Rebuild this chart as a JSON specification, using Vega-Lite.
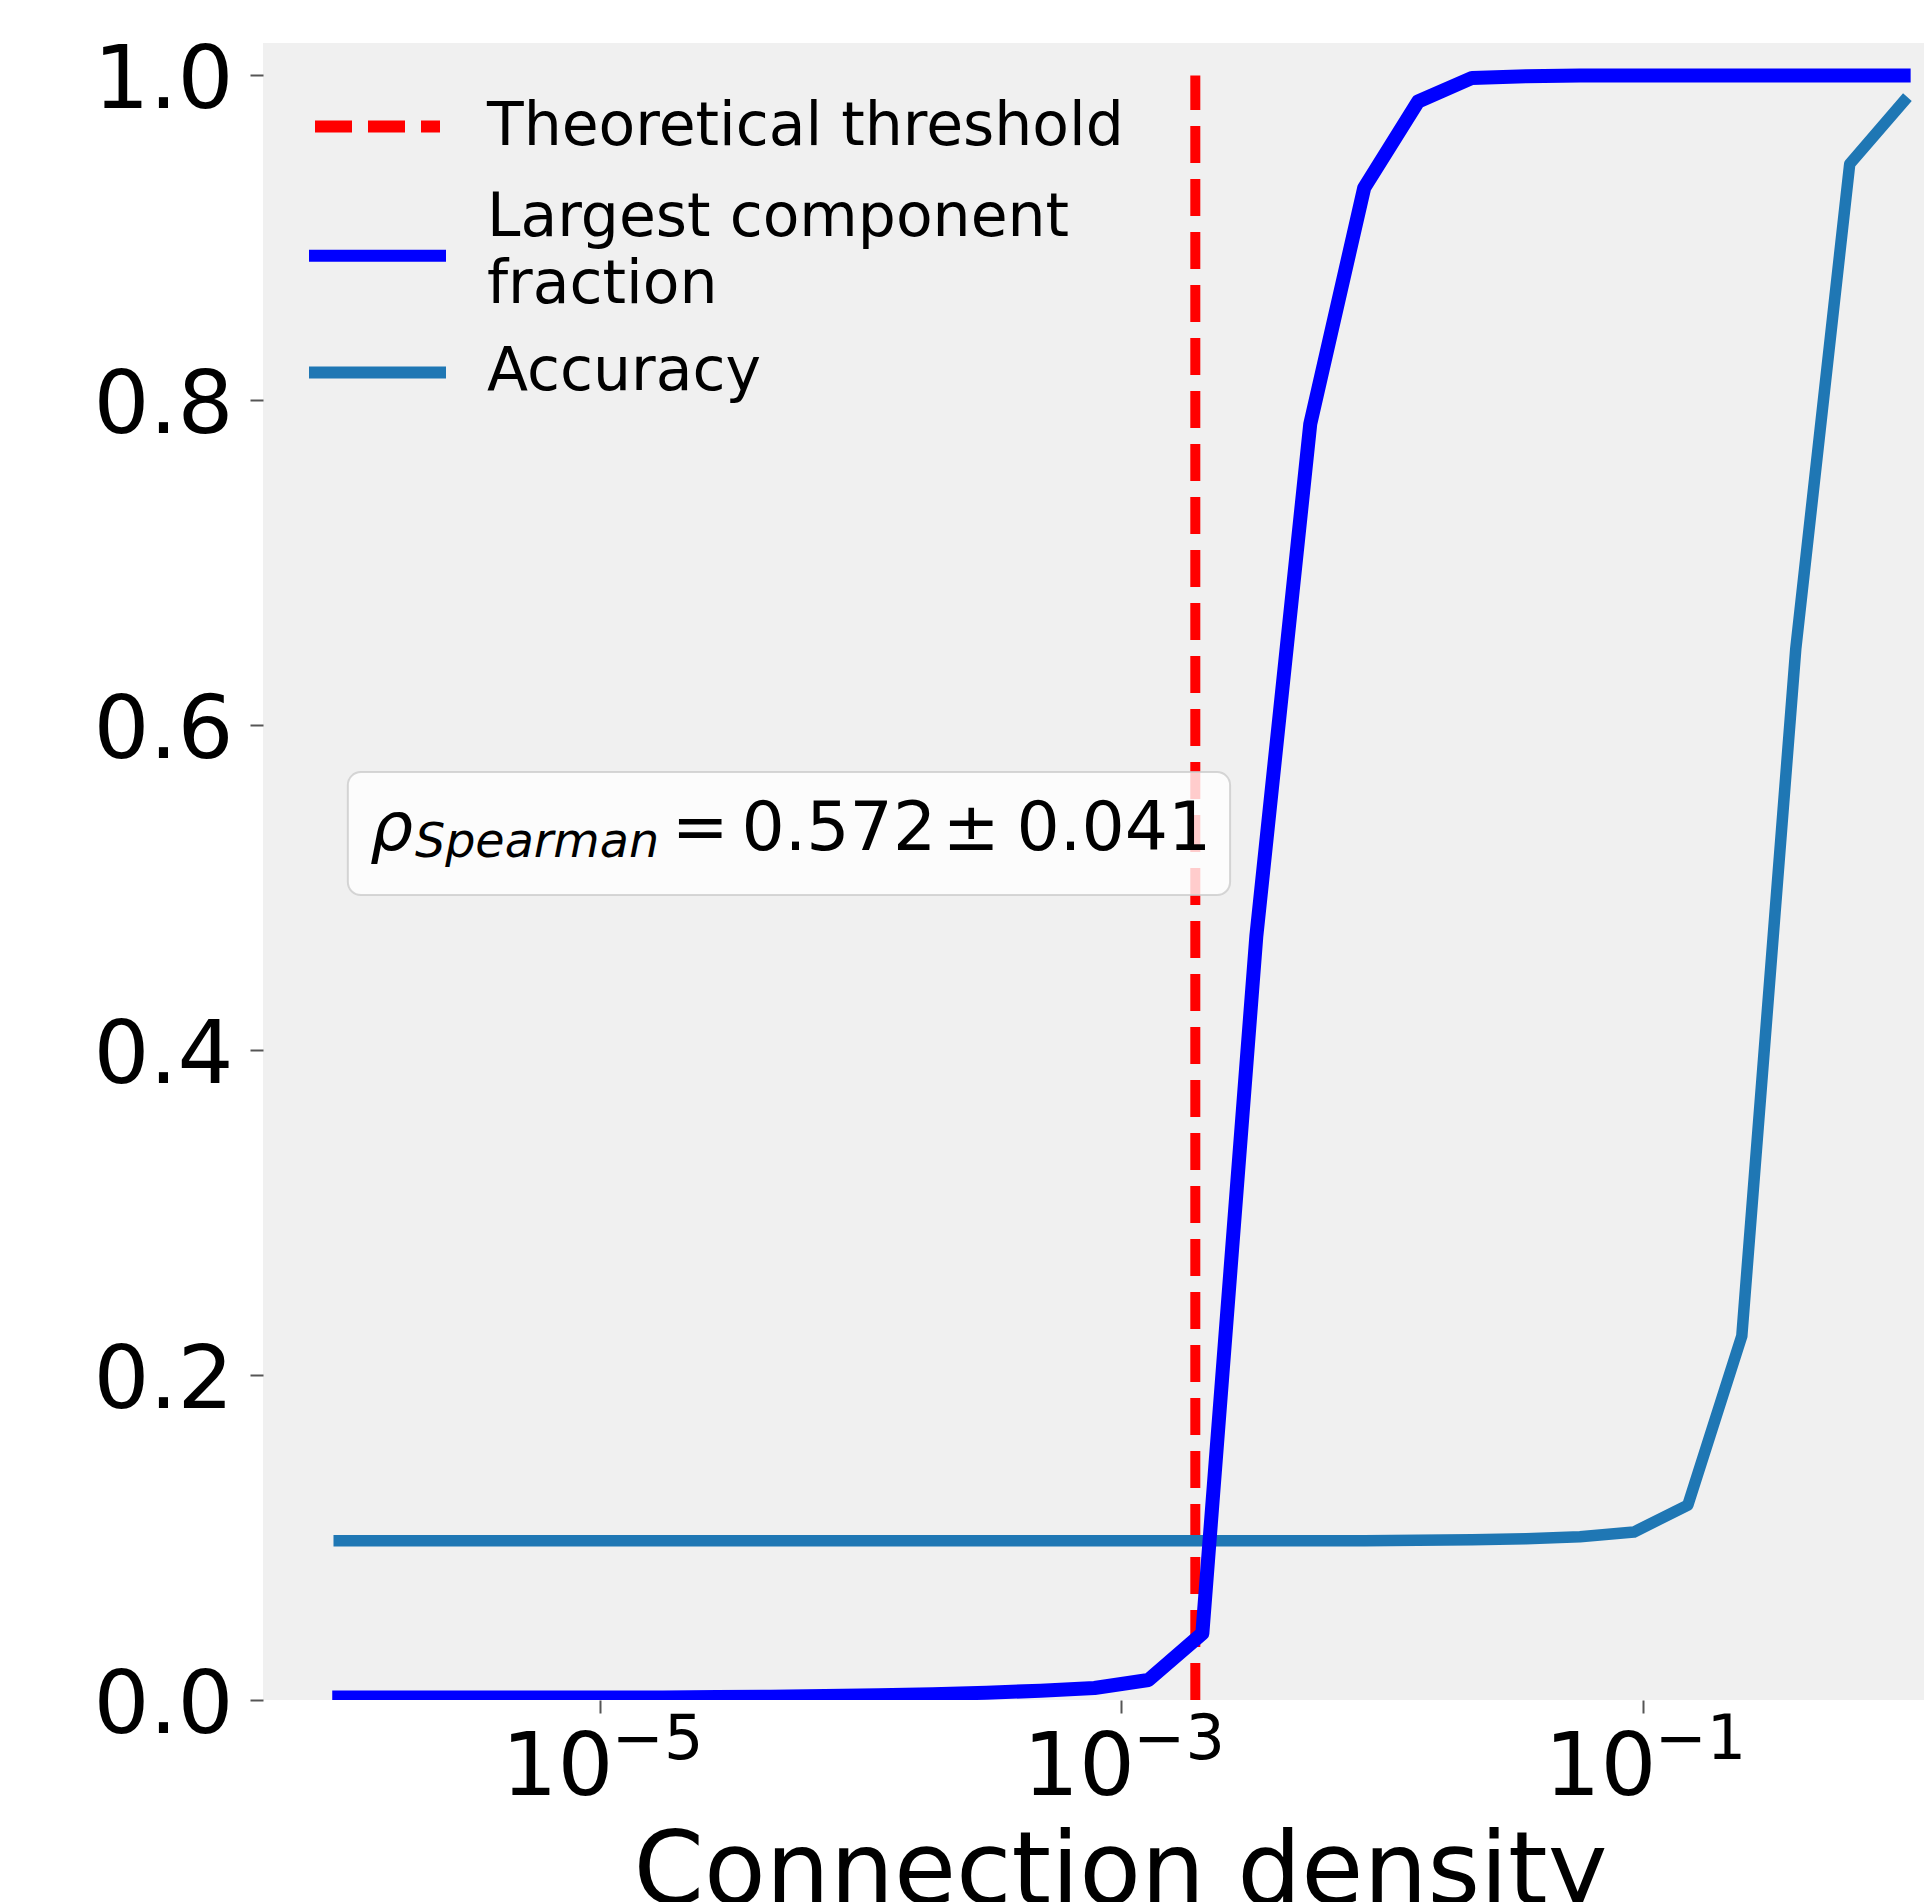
{
  "$schema": "https://vega.github.io/schema/vega-lite/v6.json",
  "autosize": "none",
  "width": 1661,
  "height": 1657,
  "padding": {"left": 263, "top": 43, "right": 0, "bottom": 202},
  "background": "white",
  "config": {
    "view": {"fill": "#f0f0f0", "stroke": null},
    "font": "DejaVu Sans"
  },
  "datasets": {
    "curves": [
      {"density": 1e-6, "series": "Largest component fraction", "value": 0.0015},
      {"density": 1.6103e-6, "series": "Largest component fraction", "value": 0.0015},
      {"density": 2.5929e-6, "series": "Largest component fraction", "value": 0.0015},
      {"density": 4.1753e-6, "series": "Largest component fraction", "value": 0.0015},
      {"density": 6.7234e-6, "series": "Largest component fraction", "value": 0.0015},
      {"density": 1.0826e-5, "series": "Largest component fraction", "value": 0.0015},
      {"density": 1.7433e-5, "series": "Largest component fraction", "value": 0.0016},
      {"density": 2.8072e-5, "series": "Largest component fraction", "value": 0.0018},
      {"density": 4.5204e-5, "series": "Largest component fraction", "value": 0.002},
      {"density": 7.279e-5, "series": "Largest component fraction", "value": 0.0025},
      {"density": 1.1721e-4, "series": "Largest component fraction", "value": 0.003},
      {"density": 1.8874e-4, "series": "Largest component fraction", "value": 0.0035},
      {"density": 3.0392e-4, "series": "Largest component fraction", "value": 0.0045},
      {"density": 4.8939e-4, "series": "Largest component fraction", "value": 0.0057},
      {"density": 7.8805e-4, "series": "Largest component fraction", "value": 0.0074},
      {"density": 1.269e-3, "series": "Largest component fraction", "value": 0.0123},
      {"density": 2.0434e-3, "series": "Largest component fraction", "value": 0.041},
      {"density": 3.2903e-3, "series": "Largest component fraction", "value": 0.47},
      {"density": 5.2983e-3, "series": "Largest component fraction", "value": 0.7855},
      {"density": 8.5317e-3, "series": "Largest component fraction", "value": 0.9308},
      {"density": 1.3738e-2, "series": "Largest component fraction", "value": 0.984},
      {"density": 2.2122e-2, "series": "Largest component fraction", "value": 0.9985},
      {"density": 3.5622e-2, "series": "Largest component fraction", "value": 0.9995},
      {"density": 5.7362e-2, "series": "Largest component fraction", "value": 1.0},
      {"density": 9.2367e-2, "series": "Largest component fraction", "value": 1.0},
      {"density": 0.14874, "series": "Largest component fraction", "value": 1.0},
      {"density": 0.2395, "series": "Largest component fraction", "value": 1.0},
      {"density": 0.38566, "series": "Largest component fraction", "value": 1.0},
      {"density": 0.62102, "series": "Largest component fraction", "value": 1.0},
      {"density": 1.0, "series": "Largest component fraction", "value": 1.0},
      {"density": 1e-6, "series": "Accuracy", "value": 0.098},
      {"density": 1.6103e-6, "series": "Accuracy", "value": 0.098},
      {"density": 2.5929e-6, "series": "Accuracy", "value": 0.098},
      {"density": 4.1753e-6, "series": "Accuracy", "value": 0.098},
      {"density": 6.7234e-6, "series": "Accuracy", "value": 0.098},
      {"density": 1.0826e-5, "series": "Accuracy", "value": 0.098},
      {"density": 1.7433e-5, "series": "Accuracy", "value": 0.098},
      {"density": 2.8072e-5, "series": "Accuracy", "value": 0.098},
      {"density": 4.5204e-5, "series": "Accuracy", "value": 0.098},
      {"density": 7.279e-5, "series": "Accuracy", "value": 0.098},
      {"density": 1.1721e-4, "series": "Accuracy", "value": 0.098},
      {"density": 1.8874e-4, "series": "Accuracy", "value": 0.098},
      {"density": 3.0392e-4, "series": "Accuracy", "value": 0.098},
      {"density": 4.8939e-4, "series": "Accuracy", "value": 0.098},
      {"density": 7.8805e-4, "series": "Accuracy", "value": 0.098},
      {"density": 1.269e-3, "series": "Accuracy", "value": 0.098},
      {"density": 2.0434e-3, "series": "Accuracy", "value": 0.098},
      {"density": 3.2903e-3, "series": "Accuracy", "value": 0.098},
      {"density": 5.2983e-3, "series": "Accuracy", "value": 0.098},
      {"density": 8.5317e-3, "series": "Accuracy", "value": 0.098},
      {"density": 1.3738e-2, "series": "Accuracy", "value": 0.0983},
      {"density": 2.2122e-2, "series": "Accuracy", "value": 0.0987},
      {"density": 3.5622e-2, "series": "Accuracy", "value": 0.0993},
      {"density": 5.7362e-2, "series": "Accuracy", "value": 0.1005},
      {"density": 9.2367e-2, "series": "Accuracy", "value": 0.1034},
      {"density": 0.14874, "series": "Accuracy", "value": 0.12},
      {"density": 0.2395, "series": "Accuracy", "value": 0.224},
      {"density": 0.38566, "series": "Accuracy", "value": 0.647},
      {"density": 0.62102, "series": "Accuracy", "value": 0.9455},
      {"density": 1.0, "series": "Accuracy", "value": 0.984}
    ],
    "threshold": [
      {"density": 0.00192, "series": "Theoretical threshold"}
    ],
    "xticks": [
      {"tick": 1e-5, "exponent": "−5"},
      {"tick": 1e-3, "exponent": "−3"},
      {"tick": 1e-1, "exponent": "−1"}
    ]
  },
  "layer": [
    {
      "data": {"name": "threshold"},
      "mark": {"type": "rule", "strokeWidth": 10, "clip": true},
      "encoding": {
        "x": {
          "field": "density", "type": "quantitative",
          "scale": {"type": "log", "domain": [5.1e-7, 1.197], "nice": false},
          "axis": {
            "orient": "bottom", "values": [1e-5, 1e-3, 1e-1],
            "labelExpr": "'10'", "labelFont": "DejaVu Sans", "labelFontSize": 88,
            "labelColor": "#000000", "labelAlign": "right", "labelOffset": 13,
            "labelBaseline": "alphabetic", "labelPadding": 81,
            "labelFlush": false, "labelOverlap": false, "labelBound": false,
            "tickSize": 13, "tickWidth": 2, "tickColor": "#555555",
            "domain": false, "grid": false,
            "title": "Connection density", "titleFont": "DejaVu Sans",
            "titleFontSize": 101, "titleFontWeight": "normal", "titleColor": "#000000",
            "titleX": 857, "titleY": 203, "titleAlign": "center", "titleBaseline": "alphabetic"
          }
        },
        "y": {
          "datum": 0, "type": "quantitative",
          "scale": {"domain": [0, 1.02], "nice": false, "zero": false},
          "axis": {
            "orient": "left",
            "values": [0, 0.2, 0.4, 0.6, 0.8, 1.0], "format": ".1f",
            "labelFont": "DejaVu Sans", "labelFontSize": 88, "labelColor": "#000000",
            "labelPadding": 17, "labelOffset": 6, "tickSize": 13, "tickWidth": 2, "tickColor": "#555555",
            "domain": false, "grid": false, "title": null
          }
        },
        "y2": {"datum": 1},
        "color": {
          "field": "series", "type": "nominal",
          "scale": {
            "domain": ["Theoretical threshold", "Largest component fraction", "Accuracy"],
            "range": ["#ff0000", "#0000ff", "#1f77b4"]
          },
          "legend": {
            "orient": "none", "legendX": 46, "legendY": 15, "title": null,
            "symbolType": "stroke", "symbolSize": 15625, "symbolStrokeWidth": 12,
            "labelFont": "DejaVu Sans", "labelFontSize": 60, "labelColor": "#000000",
            "labelOffset": 41, "labelLimit": 0, "rowPadding": -22, "padding": 0,
            "labelExpr": "datum.label == 'Largest component fraction' ? ['Largest component', 'fraction'] : datum.label",
            "encode": {
              "labels": {"update": {
                "lineHeight": {"value": 67},
                "dy": {"signal": "datum.value == 'Largest component fraction' ? -8 : (datum.value == 'Accuracy' ? -12 : 0)"}
              }},
              "symbols": {"update": {
                "y": {"signal": "datum.value == 'Largest component fraction' ? 98.7 : (datum.value == 'Accuracy' ? 57.5 : 68.5)"},
                "strokeCap": {"signal": "datum.value == 'Theoretical threshold' ? 'butt' : 'square'"}
              }}
            }
          }
        },
        "strokeDash": {
          "field": "series", "type": "nominal",
          "scale": {
            "domain": ["Theoretical threshold", "Largest component fraction", "Accuracy"],
            "range": [[37, 16], [1, 0], [1, 0]]
          },
          "legend": {
            "orient": "none", "legendX": 46, "legendY": 15, "title": null,
            "symbolType": "stroke", "symbolSize": 15625, "symbolStrokeWidth": 12,
            "labelFont": "DejaVu Sans", "labelFontSize": 60, "labelColor": "#000000",
            "labelOffset": 41, "labelLimit": 0, "rowPadding": -22, "padding": 0,
            "labelExpr": "datum.label == 'Largest component fraction' ? ['Largest component', 'fraction'] : datum.label",
            "encode": {
              "labels": {"update": {
                "lineHeight": {"value": 67},
                "dy": {"signal": "datum.value == 'Largest component fraction' ? -8 : (datum.value == 'Accuracy' ? -12 : 0)"}
              }},
              "symbols": {"update": {
                "y": {"signal": "datum.value == 'Largest component fraction' ? 98.7 : (datum.value == 'Accuracy' ? 57.5 : 68.5)"},
                "strokeCap": {"signal": "datum.value == 'Theoretical threshold' ? 'butt' : 'square'"}
              }}
            }
          }
        }
      }
    },
    {
      "data": {"name": "curves"},
      "transform": [{"filter": "datum.series == 'Accuracy'"}],
      "mark": {"type": "line", "strokeWidth": 11.5, "clip": true, "strokeJoin": "round", "strokeCap": "square"},
      "encoding": {
        "x": {"field": "density", "type": "quantitative"},
        "y": {"field": "value", "type": "quantitative"},
        "color": {"field": "series", "type": "nominal"}
      }
    },
    {
      "data": {"name": "curves"},
      "transform": [{"filter": "datum.series == 'Largest component fraction'"}],
      "mark": {"type": "line", "strokeWidth": 14, "clip": true, "strokeJoin": "round", "strokeCap": "square"},
      "encoding": {
        "x": {"field": "density", "type": "quantitative"},
        "y": {"field": "value", "type": "quantitative"},
        "color": {"field": "series", "type": "nominal"}
      }
    },
    {
      "data": {"name": "xticks"},
      "mark": {"type": "text", "font": "DejaVu Sans", "fontSize": 62, "align": "left", "baseline": "alphabetic", "color": "#000000", "dx": 12, "dy": 59},
      "encoding": {
        "x": {"field": "tick", "type": "quantitative"},
        "y": {"datum": 0, "type": "quantitative"},
        "text": {"field": "exponent"}
      }
    },
    {
      "data": {"values": [{"box": "stat"}]},
      "mark": {"type": "rect", "fill": "#ffffff", "fillOpacity": 0.8, "stroke": "#cccccc", "strokeWidth": 2, "strokeOpacity": 0.8, "cornerRadius": 13},
      "encoding": {
        "x": {"datum": 1.079e-6, "type": "quantitative"},
        "x2": {"datum": 2.61e-3},
        "y": {"datum": 0.5712, "type": "quantitative"},
        "y2": {"datum": 0.4955}
      }
    },
    {
      "data": {"values": [{"t": "ρ"}]},
      "mark": {"type": "text", "font": "DejaVu Sans", "fontStyle": "italic", "fontSize": 68, "align": "left", "baseline": "alphabetic", "color": "#000000"},
      "encoding": {
        "x": {"datum": 1.311e-6, "type": "quantitative"},
        "y": {"datum": 0.5232, "type": "quantitative"},
        "text": {"field": "t"}
      }
    },
    {
      "data": {"values": [{"t": "Spearman"}]},
      "mark": {"type": "text", "font": "DejaVu Sans", "fontStyle": "italic", "fontSize": 47.6, "align": "left", "baseline": "alphabetic", "color": "#000000"},
      "encoding": {
        "x": {"datum": 1.951e-6, "type": "quantitative"},
        "y": {"datum": 0.5189, "type": "quantitative"},
        "text": {"field": "t"}
      }
    },
    {
      "data": {"values": [{"t": "="}]},
      "mark": {"type": "text", "font": "DejaVu Sans", "fontSize": 68, "align": "left", "baseline": "alphabetic", "color": "#000000"},
      "encoding": {
        "x": {"datum": 1.884e-5, "type": "quantitative"},
        "y": {"datum": 0.5232, "type": "quantitative"},
        "text": {"field": "t"}
      }
    },
    {
      "data": {"values": [{"t": "0.572"}]},
      "mark": {"type": "text", "font": "DejaVu Sans", "fontSize": 68, "align": "left", "baseline": "alphabetic", "color": "#000000"},
      "encoding": {
        "x": {"datum": 3.489e-5, "type": "quantitative"},
        "y": {"datum": 0.5232, "type": "quantitative"},
        "text": {"field": "t"}
      }
    },
    {
      "data": {"values": [{"t": "±"}]},
      "mark": {"type": "text", "font": "DejaVu Sans", "fontSize": 68, "align": "left", "baseline": "alphabetic", "color": "#000000"},
      "encoding": {
        "x": {"datum": 2.063e-4, "type": "quantitative"},
        "y": {"datum": 0.5232, "type": "quantitative"},
        "text": {"field": "t"}
      }
    },
    {
      "data": {"values": [{"t": "0.041"}]},
      "mark": {"type": "text", "font": "DejaVu Sans", "fontSize": 68, "align": "left", "baseline": "alphabetic", "color": "#000000"},
      "encoding": {
        "x": {"datum": 3.959e-4, "type": "quantitative"},
        "y": {"datum": 0.5232, "type": "quantitative"},
        "text": {"field": "t"}
      }
    }
  ]
}
